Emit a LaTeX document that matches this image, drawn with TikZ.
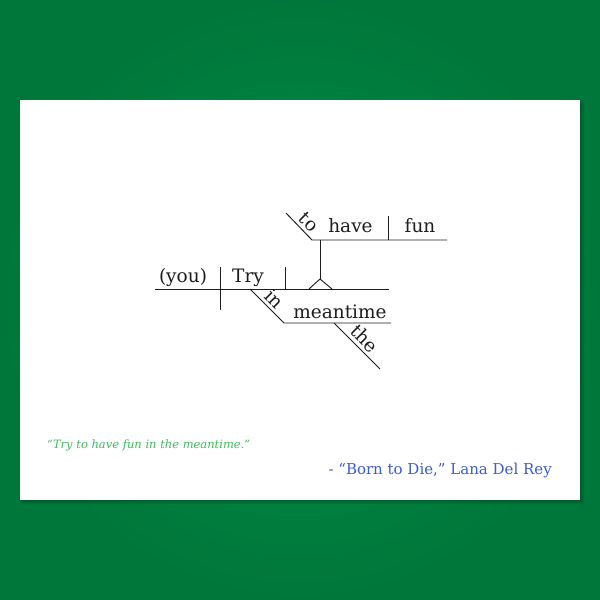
\documentclass[tikz,border=0pt]{standalone}
\usepackage{fontspec}
\setmainfont{DejaVu Serif}
\usetikzlibrary{calc}
\definecolor{bgin}{HTML}{008F45}
\definecolor{bgout}{HTML}{00773A}
\definecolor{quotegreen}{HTML}{3DBE5E}
\definecolor{byblue}{HTML}{3B5BDB}
\definecolor{ink}{HTML}{1E1E1E}
\tikzset{
  diag/.style={draw=ink, line width=0.95pt},
  word/.style={font=\fontsize{18.5}{20}\selectfont, text=ink, inner sep=1pt, anchor=base},
  slant/.style={font=\fontsize{18.5}{20}\selectfont, text=ink, inner sep=3.5pt, anchor=south, rotate=-45},
}
\begin{document}
\begin{tikzpicture}[x=1pt,y=-1pt]
\useasboundingbox (0,0) rectangle (600,600);
% background
\shade[inner color=bgin, outer color=bgout] (0,0) rectangle (600,600);
% card shadow
\fill[black, opacity=0.10] (22,103) rectangle (584,504);
\fill[black, opacity=0.12] (21,101) rectangle (582,502);
\fill[white] (20,100) rectangle (580,500);

% coordinates
\coordinate (A) at (155,289);
\coordinate (B) at (389,289);
\coordinate (SD1) at (220,267);
\coordinate (SD2) at (220,310);
\coordinate (VD1) at (285,267);
\coordinate (VD2) at (285,289);
\coordinate (P1) at (320,240);
\coordinate (P2) at (320,279);
\coordinate (T1) at (309,289);
\coordinate (T2) at (332,289);
\coordinate (U1) at (312,240);
\coordinate (U2) at (447,240);
\coordinate (D1) at (286,213);
\coordinate (HF1) at (388,216);
\coordinate (HF2) at (388,240);
\coordinate (I1) at (250,289);
\coordinate (M1) at (284,323);
\coordinate (M2) at (391,323);
\coordinate (TH1) at (334,323);
\coordinate (TH2) at (380,369);

% lines
\draw[diag] (A) -- (B);
\draw[diag] (SD1) -- (SD2);
\draw[diag] (VD1) -- (VD2);
\draw[diag] (P1) -- (P2);
\draw[diag, line join=miter] (T1) -- (P2) -- (T2);
\draw[diag] (D1) -- (U1) -- (U2);
\draw[diag] (HF1) -- (HF2);
\draw[diag] (I1) -- (M1) -- (M2);
\draw[diag] (TH1) -- (TH2);

% words
\node[word] (you) at (183,282.5) {(you)};
\node[word] (try) at (248,282.5) {Try};
\node[word] (have) at (350.5,232.5) {have};
\node[word] (fun) at (420,232.5) {fun};
\node[word] (meantime) at (340,318) {meantime};
\node[slant] (to) at ($(D1)!0.6!(U1)$) {to};
\node[slant] (in) at ($(I1)!0.5!(M1)$) {in};
\node[slant] (the) at ($(TH1)!0.5!(TH2)$) {the};

% captions
\node[anchor=base west, inner sep=0pt, text=quotegreen, font=\itshape\fontsize{11.5}{13}\selectfont] (quote) at (47,448) {“Try to have fun in the meantime.”};
\node[anchor=base east, inner sep=0pt, text=byblue, font=\fontsize{15}{17}\selectfont] (by) at (552,474) {- “Born to Die,” Lana Del Rey};
\end{tikzpicture}
\end{document}
